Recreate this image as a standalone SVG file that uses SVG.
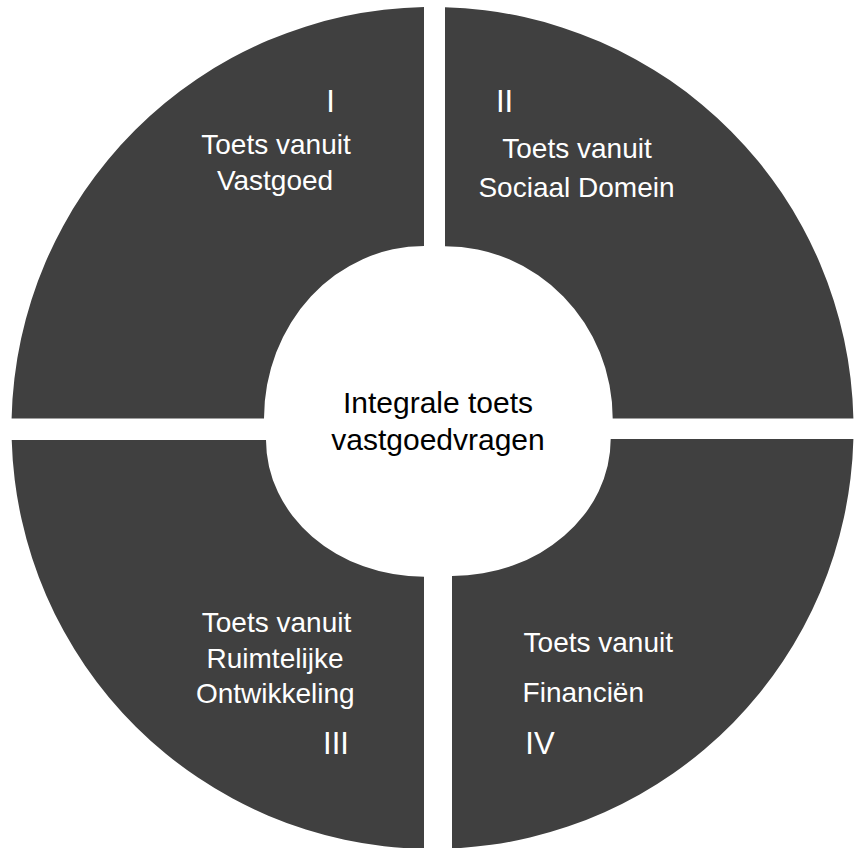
<svg xmlns="http://www.w3.org/2000/svg" width="855" height="848" viewBox="0 0 855 848">
  <style>
    .seg { fill: #404040; stroke: none; }
    .lbl { font-family: "Liberation Sans", Arial, sans-serif; font-size: 28px; fill: #ffffff; text-anchor: middle; }
    .num { font-family: "Liberation Sans", Arial, sans-serif; font-size: 31px; fill: #ffffff; text-anchor: middle; }
    .ctr { font-family: "Liberation Sans", Arial, sans-serif; font-size: 30px; fill: #000000; text-anchor: middle; }
  </style>
  <rect x="0" y="0" width="855" height="848" fill="#ffffff"/>
  <g id="quadrant-I">
    <path class="seg" d="M 424 7.1 L 424 246 A 160 172.5 0 0 0 264 418.5 L 11.6 418.5 A 421 421 0 0 1 424 7.1 Z"/>
    <text class="num" x="330.5" y="112">I</text>
    <text class="lbl" x="276" y="154">Toets vanuit</text>
    <text class="lbl" x="275" y="190">Vastgoed</text>
  </g>
  <g id="quadrant-II">
    <path class="seg" d="M 445 7.2 A 421 421 0 0 1 853.4 418.5 L 612.7 418.5 A 167.7 172.3 0 0 0 445 246.2 Z"/>
    <text class="num" x="504.5" y="112">II</text>
    <text class="lbl" x="577" y="157.5">Toets vanuit</text>
    <text class="lbl" x="576.5" y="196.5">Sociaal Domein</text>
  </g>
  <g id="quadrant-III">
    <path class="seg" d="M 11.7 440 L 266 440 A 158 136.7 0 0 0 424 576.7 L 424 848.9 A 421 421 0 0 1 11.7 440 Z"/>
    <text class="lbl" x="276.5" y="631.5">Toets vanuit</text>
    <text class="lbl" x="275" y="668">Ruimtelijke</text>
    <text class="lbl" x="275.3" y="703">Ontwikkeling</text>
    <text class="num" x="336" y="754">III</text>
  </g>
  <g id="quadrant-IV">
    <path class="seg" d="M 610.7 439 L 853.4 439 A 421 421 0 0 1 452 848.5 L 452 576 A 158.7 137 0 0 0 610.7 439 Z"/>
    <text class="lbl" x="598.3" y="652">Toets vanuit</text>
    <text class="lbl" x="583.3" y="702">Financiën</text>
    <text class="num" x="540" y="754">IV</text>
  </g>
  <g id="center">
    <text class="ctr" x="438" y="412.5">Integrale toets</text>
    <text class="ctr" x="438" y="450">vastgoedvragen</text>
  </g>
  <g id="connectors"/>
</svg>
